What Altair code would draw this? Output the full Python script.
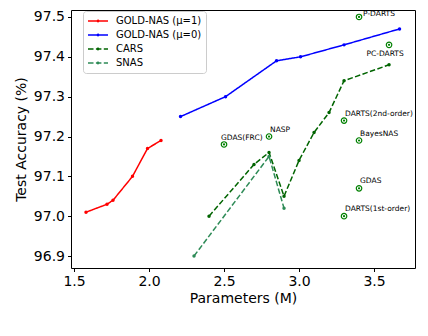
import altair as alt
import pandas as pd

# ---- data ----
series_names = ["GOLD-NAS (μ=1)", "GOLD-NAS (μ=0)", "CARS", "SNAS"]
red_x = [1.58, 1.72, 1.76, 1.89, 1.99, 2.08]
red_y = [97.01, 97.03, 97.04, 97.10, 97.17, 97.19]
blue_x = [2.21, 2.51, 2.85, 3.01, 3.30, 3.67]
blue_y = [97.25, 97.30, 97.39, 97.40, 97.43, 97.47]
cars_x = [2.40, 2.70, 2.80, 2.90, 3.00, 3.10, 3.20, 3.30, 3.60]
cars_y = [97.00, 97.13, 97.16, 97.05, 97.14, 97.21, 97.26, 97.34, 97.38]
snas_x = [2.30, 2.80, 2.90]
snas_y = [96.90, 97.15, 97.02]

other_names = ["P-DARTS", "PC-DARTS", "DARTS(2nd-order)", "BayesNAS", "GDAS",
               "DARTS(1st-order)", "GDAS(FRC)", "NASP"]
other_x = [3.40, 3.60, 3.30, 3.40, 3.40, 3.30, 2.50, 2.80]
other_y = [97.50, 97.43, 97.24, 97.19, 97.07, 97.00, 97.18, 97.20]

x_ticks = [1.5, 2.0, 2.5, 3.0, 3.5]
y_ticks = [96.9, 97.0, 97.1, 97.2, 97.3, 97.4, 97.5]

# ---- styles ----
FONT = "DejaVu Sans"
colors = ["#ff0000", "#0000ff", "#006400", "#2e8b57"]
dashes = [[1, 0], [1, 0], [5.5, 2.4], [5.5, 2.4]]
scatter_color = "#008000"
label_offsets = {  # dx, dy, align
    "P-DARTS": (4, -3, "left"),
    "PC-DARTS": (-4, 9, "center"),
    "DARTS(2nd-order)": (1, -7, "left"),
    "BayesNAS": (1, -6, "left"),
    "GDAS": (1, -7, "left"),
    "DARTS(1st-order)": (1, -7, "left"),
    "GDAS(FRC)": (-3, -6, "left"),
    "NASP": (1, -7, "left"),
}

rows = []
for name, xs, ys in zip(series_names, [red_x, blue_x, cars_x, snas_x],
                        [red_y, blue_y, cars_y, snas_y]):
    for i, (a, b) in enumerate(zip(xs, ys)):
        rows.append({"series": name, "params": a, "acc": b, "idx": i})
lines_df = pd.DataFrame(rows)
others_df = pd.DataFrame({"name": other_names, "params": other_x, "acc": other_y})

xscale = alt.Scale(domain=[1.48, 3.773], nice=False, zero=False)
yscale = alt.Scale(domain=[96.87, 97.5175], nice=False, zero=False)

xaxis = alt.Axis(values=x_ticks, format=".1f", title="Parameters (M)")
yaxis = alt.Axis(values=y_ticks, format=".1f", title="Test Accuracy (%)")

sym_path = "M-1,0H1M-0.07,0a0.07,0.07 0 1,0 0.14,0a0.07,0.07 0 1,0 -0.14,0"
legend = alt.Legend(
    title=None, orient="none", legendX=12, legendY=1,
    symbolType=sym_path, symbolSize=400, symbolStrokeWidth=1.5,
    clipHeight=12, rowPadding=2, labelFontSize=10, labelFont=FONT,
    labelColor="black", padding=4, strokeColor="#cccccc", fillColor="white",
    cornerRadius=3, labelOffset=7,
)

base_x = alt.X("params:Q", scale=xscale, axis=xaxis)
base_y = alt.Y("acc:Q", scale=yscale, axis=yaxis)

lines = alt.Chart(lines_df).mark_line(
    strokeWidth=1.5,
    point=alt.OverlayMarkDef(filled=True, size=12),
).encode(
    x=base_x,
    y=base_y,
    color=alt.Color("series:N", scale=alt.Scale(domain=series_names, range=colors),
                    sort=series_names, legend=legend),
    strokeDash=alt.StrokeDash("series:N",
                              scale=alt.Scale(domain=series_names, range=dashes),
                              sort=series_names, legend=legend),
    order="idx:Q",
)

rings = alt.Chart(others_df).mark_point(
    shape="circle", filled=False, size=30, strokeWidth=1.2, color=scatter_color, opacity=1
).encode(x=base_x, y=base_y)
dots = alt.Chart(others_df).mark_point(
    shape="circle", filled=True, size=5, color=scatter_color, opacity=1
).encode(x=base_x, y=base_y)

texts = []
for name in other_names:
    dx, dy, align = label_offsets[name]
    texts.append(
        alt.Chart(others_df).transform_filter(alt.datum.name == name).mark_text(
            dx=dx, dy=dy, align=align, baseline="middle", fontSize=7.5,
            font=FONT, color="black",
        ).encode(x=base_x, y=base_y, text="name:N")
    )

chart = alt.layer(lines, rings, dots, *texts).properties(
    width=344, height=258,
    autosize=alt.AutoSizeParams(type="none"),
    padding={"left": 63, "top": 2, "right": 5, "bottom": 60},
).configure_view(
    stroke="black", strokeWidth=1,
).configure_axis(
    grid=False, domain=False, tickColor="black", tickSize=3.5, tickWidth=1,
    labelFont=FONT, titleFont=FONT, labelFontSize=14, titleFontSize=14,
    titleFontWeight="normal", labelColor="black", titleColor="black",
    labelPadding=3,
).configure_axisX(
    titlePadding=3,
).configure_axisY(
    titlePadding=5,
)

chart.save("out.html", embed_options={"renderer": "svg", "actions": False})
